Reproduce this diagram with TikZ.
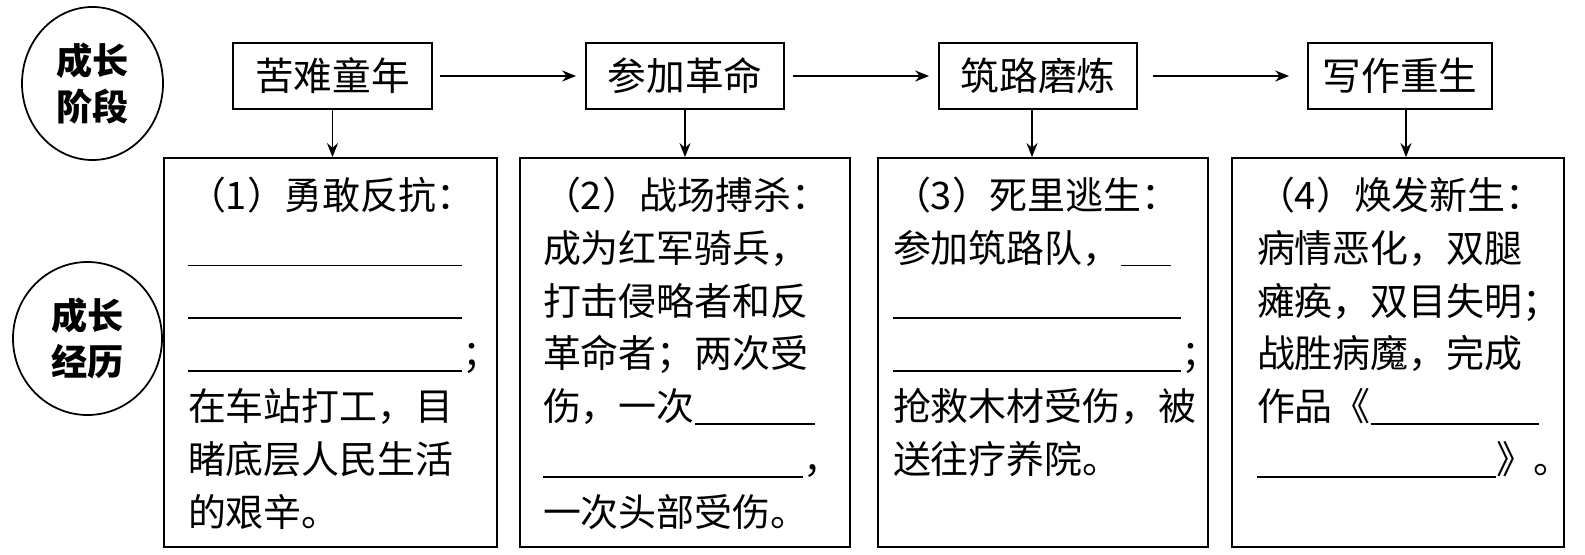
\documentclass[tikz,border=0pt]{standalone}
\usepackage{fontspec}
\setmainfont{Noto Sans CJK SC}
\usetikzlibrary{arrows.meta,shapes.geometric}
\newcommand{\blank}[1]{\rule[-1.2pt]{#1}{0.5pt}}

\begin{document}
\begin{tikzpicture}[
    line width=0.5pt,
    phase/.style={draw,ellipse,inner sep=0pt,align=center,font=\bfseries\fontsize{10.3pt}{13.3pt}\selectfont},
    stage/.style={draw,minimum height=0.66cm,inner sep=0pt,font=\fontsize{11pt}{13pt}\selectfont},
    card/.style={draw,minimum height=3.89cm,inner sep=0pt},
    cardtext/.style={anchor=north west,align=left,inner sep=0pt,font=\fontsize{10.8pt}{15.07pt}\selectfont},
    flow/.style={-{Stealth[length=1.4mm,width=1.1mm]}}
]
\useasboundingbox (0,0) rectangle (15.85,5.54);
% left column
\node[phase,minimum width=1.41cm,minimum height=1.53cm] (p1) at (0.925,4.705) {成长\\阶段};
\node[phase,minimum width=1.49cm,minimum height=1.53cm] (p2) at (0.875,2.155) {成长\\经历};
% stages
\node[stage,minimum width=1.99cm] (s1) at (3.325,4.78) {苦难童年};
\node[stage,minimum width=1.98cm] (s2) at (6.85,4.78) {参加革命};
\node[stage,minimum width=1.98cm] (s3) at (10.38,4.78) {筑路磨炼};
\node[stage,minimum width=1.84cm] (s4) at (14.00,4.78) {写作重生};
\draw[flow,shorten <=0.07cm,shorten >=0.09cm] (s1) -- (s2);
\draw[flow,shorten <=0.08cm,shorten >=0.09cm] (s2) -- (s3);
\draw[flow,shorten <=0.15cm,shorten >=0.18cm] (s3) -- (s4);
% experiences
\node[card,minimum width=3.33cm] (e1) at (3.305,2.015) {};
\node[card,minimum width=3.30cm] (e2) at (6.85,2.015) {};
\node[card,minimum width=3.30cm] (e3) at (10.43,2.015) {};
\node[card,minimum width=3.32cm] (e4) at (13.98,2.015) {};
\draw[flow] (s1) -- (s1|-e1.north);
\draw[flow] (s2) -- (s2|-e2.north);
\draw[flow] ([xshift=-0.06cm]s3.south) -- ([xshift=-0.06cm]s3.south|-e3.north);
\draw[flow] ([xshift=0.06cm]s4.south) -- ([xshift=0.06cm]s4.south|-e4.north);
\node[cardtext] (t1) at ([shift={(0.24,-0.14)}]e1.north west) {\strut（1）勇敢反抗：\\
    \blank{2.74cm}\\
    \blank{2.74cm}\\
    \blank{2.74cm}；\\
    在车站打工，目\\
    睹底层人民生活\\
    的艰辛。};
\node[cardtext] (t2) at ([shift={(0.23,-0.14)}]e2.north west) {\strut（2）战场搏杀：\\
    成为红军骑兵，\\
    打击侵略者和反\\
    革命者；两次受\\
    伤，一次\blank{1.2cm}\\
    \blank{2.6cm}，\\
    一次头部受伤。};
\node[cardtext] (t3) at ([shift={(0.15,-0.14)}]e3.north west) {\strut（3）死里逃生：\\
    参加筑路队，\blank{0.5cm}\\
    \blank{2.88cm}\\
    \blank{2.88cm}；\\
    抢救木材受伤，被\\
    送往疗养院。};
\node[cardtext] (t4) at ([shift={(0.25,-0.14)}]e4.north west) {\strut（4）焕发新生：\\
    病情恶化，双腿\\
    瘫痪，双目失明；\\
    战胜病魔，完成\\
    作品《\blank{1.68cm}\\
    \blank{2.39cm}》。};
\end{tikzpicture}
\end{document}
